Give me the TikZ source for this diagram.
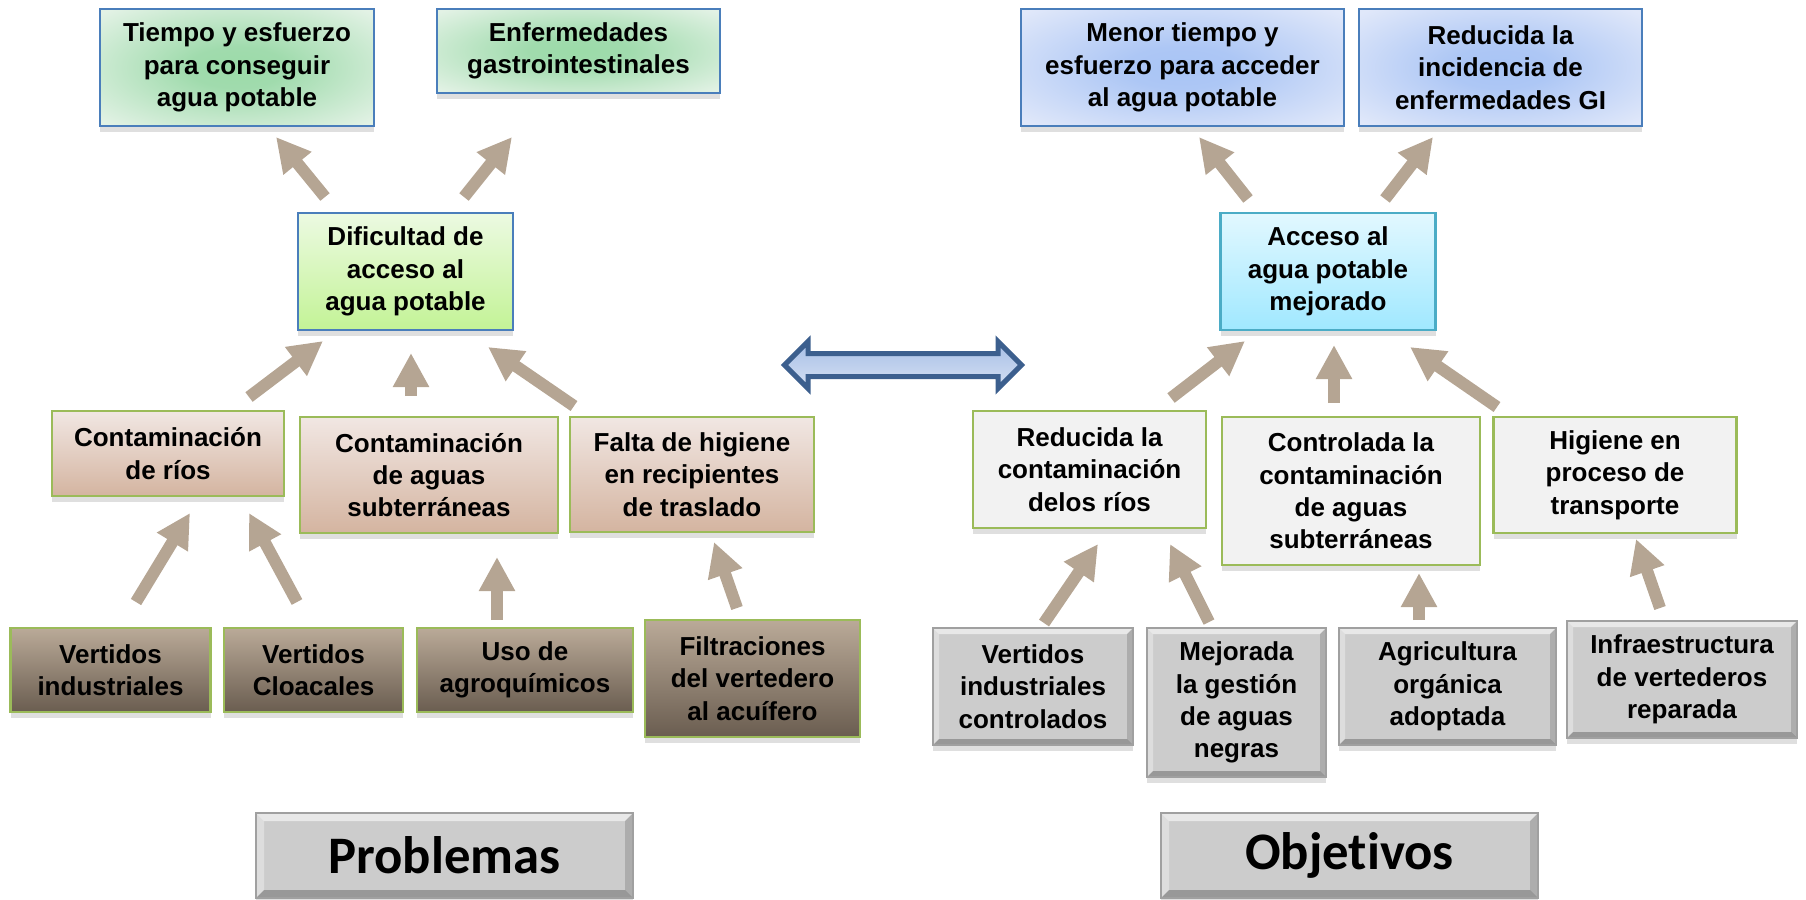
\documentclass[tikz,border=0pt]{standalone}
\usepackage{fontspec}
\setmainfont{Liberation Sans}
\newfontfamily\titlefont[Ligatures={NoCommon,NoContextual,NoRare}]{Carlito}
\usetikzlibrary{arrows.meta,shapes.arrows,shadows}

\definecolor{flowtan}{RGB}{181,165,147}
\definecolor{edgeblue}{RGB}{74,126,187}
\definecolor{edgecyan}{RGB}{75,172,198}
\definecolor{edgegreen}{RGB}{155,187,89}
\definecolor{edgegray}{RGB}{160,160,160}
\definecolor{limetop}{RGB}{236,250,226}
\definecolor{limebot}{RGB}{195,243,150}
\definecolor{rosetop}{RGB}{241,231,227}
\definecolor{rosebot}{RGB}{212,180,160}
\definecolor{earthtop}{RGB}{186,170,152}
\definecolor{earthbot}{RGB}{106,93,80}
\definecolor{skytop}{RGB}{226,248,255}
\definecolor{skybot}{RGB}{160,232,255}
\definecolor{paleg}{RGB}{242,242,242}
\definecolor{boxgray}{RGB}{204,204,204}
\definecolor{linkline}{RGB}{60,95,142}
\definecolor{linktop}{RGB}{166,190,230}
\definecolor{linkbot}{RGB}{214,225,243}

\pgfdeclareradialshading{greenglow}{\pgfpoint{0bp}{0bp}}{rgb(0bp)=(0.61,0.86,0.66); rgb(9bp)=(0.63,0.86,0.68); rgb(34bp)=(0.89,0.95,0.90); rgb(50bp)=(0.89,0.95,0.90)}
\pgfdeclareradialshading{blueglow}{\pgfpoint{0bp}{0bp}}{rgb(0bp)=(0.66,0.77,0.96); rgb(9bp)=(0.68,0.78,0.96); rgb(34bp)=(0.88,0.91,0.98); rgb(50bp)=(0.88,0.91,0.98)}

\tikzset{
  bevel/.style={path picture={
    \coordinate (pnw) at (path picture bounding box.north west);
    \coordinate (pne) at (path picture bounding box.north east);
    \coordinate (psw) at (path picture bounding box.south west);
    \coordinate (pse) at (path picture bounding box.south east);
    \fill[white,opacity=.55] (pnw) -- (pne) -- ([xshift=-#1,yshift=-#1]pne) -- ([xshift=#1,yshift=-#1]pnw) -- cycle;
    \fill[white,opacity=.35] (pnw) -- (psw) -- ([xshift=#1,yshift=#1]psw) -- ([xshift=#1,yshift=-#1]pnw) -- cycle;
    \fill[black,opacity=.25] (psw) -- (pse) -- ([xshift=-#1,yshift=#1]pse) -- ([xshift=#1,yshift=#1]psw) -- cycle;
    \fill[black,opacity=.15] (pne) -- (pse) -- ([xshift=-#1,yshift=#1]pse) -- ([xshift=-#1,yshift=-#1]pne) -- cycle;
  }}
}

\begin{document}
\begin{tikzpicture}[
    x=0.1mm, y=-0.1mm,
    box/.style={rectangle, align=center, inner sep=0pt, line width=0.25mm,
      font=\fontsize{7.4}{9.2}\selectfont\bfseries,
      drop shadow={shadow xshift=0mm, shadow yshift=-0.6mm, opacity=0.25}},
    topl/.style={box, draw=edgeblue, shading=greenglow},
    midl/.style={box, draw=edgeblue, top color=limetop, bottom color=limebot},
    rosebox/.style={box, draw=edgegreen, top color=rosetop, bottom color=rosebot},
    earthbox/.style={box, draw=edgegreen, top color=earthtop, bottom color=earthbot},
    topr/.style={box, draw=edgeblue, shading=blueglow},
    midr/.style={box, draw=edgecyan, top color=skytop, bottom color=skybot},
    palebox/.style={box, draw=edgegreen, fill=paleg},
    graybox/.style={box, draw=edgegray, fill=boxgray, bevel=0.6mm},
    titlebox/.style={box, draw=edgegray, fill=boxgray, bevel=0.8mm,
      font=\titlefont\bfseries\fontsize{15}{18}\selectfont,
      minimum width=37.7mm, minimum height=8.5mm},
    flow/.style={draw=flowtan, line width=1.2mm, -{Triangle[width=3.4mm,length=3.4mm]}},
    linkarrow/.style={double arrow, draw=linkline, line width=0.5mm, top color=linktop,
      bottom color=linkbot, minimum height=23.7mm, double arrow head extend=1.2mm,
      inner xsep=0pt, inner ysep=0.9mm}
  ]
  \useasboundingbox (0,0) rectangle (1806,899);

  \node[topl, minimum width=27.4mm, minimum height=11.7mm] (tiempo) at (237,67.5) {Tiempo y esfuerzo\\para conseguir\\agua potable};
  \node[topl, minimum width=28.3mm, minimum height=8.4mm] (enferm) at (578.5,51) {Enfermedades\\gastrointestinales};
  \node[midl, minimum width=21.5mm, minimum height=11.7mm] (dificultad) at (405.5,271.5) {Dificultad de\\acceso al\\agua potable};
  \node[rosebox, minimum width=23.2mm, minimum height=8.5mm] (rios) at (168,453.5) {Contaminación\\de ríos};
  \node[rosebox, minimum width=25.8mm, minimum height=11.6mm] (subter) at (429,475) {Contaminación\\de aguas\\subterráneas};
  \node[rosebox, minimum width=24.4mm, minimum height=11.5mm] (higiene) at (692,474.5) {Falta de higiene\\en recipientes\\de traslado};
  \node[earthbox, minimum width=20mm, minimum height=8.4mm] (indus) at (110.5,670) {Vertidos\\industriales};
  \node[earthbox, minimum width=17.9mm, minimum height=8.4mm] (cloacal) at (313.5,670) {Vertidos\\Cloacales};
  \node[earthbox, minimum width=21.6mm, minimum height=8.4mm] (agroq) at (525,670) {Uso de\\agroquímicos};
  \node[earthbox, minimum width=21.5mm, minimum height=11.7mm] (filtra) at (752.5,678.5) {Filtraciones\\del vertedero\\al acuífero};
  \node[titlebox] (problemas) at (444.5,855.5) {Problemas};

  \node[topr, minimum width=32.3mm, minimum height=11.7mm] (menor) at (1182.5,67.5) {Menor tiempo y\\esfuerzo para acceder\\al agua potable};
  \node[topr, minimum width=28.3mm, minimum height=11.7mm] (reducgi) at (1500.5,67.5) {Reducida la\\incidencia de\\enfermedades GI};
  \node[midr, minimum width=21.5mm, minimum height=11.7mm] (acceso) at (1328,271.5) {Acceso al\\agua potable\\mejorado};
  \node[palebox, minimum width=23.3mm, minimum height=11.7mm] (redrios) at (1089.5,469.5) {Reducida la\\contaminación\\delos ríos};
  \node[palebox, minimum width=25.8mm, minimum height=14.8mm] (ctrlsub) at (1351,491) {Controlada la\\contaminación\\de aguas\\subterráneas};
  \node[palebox, minimum width=24.3mm, minimum height=11.6mm] (transp) at (1615,475) {Higiene en\\proceso de\\transporte};
  \node[graybox, minimum width=20mm, minimum height=11.7mm] (induscon) at (1033,686.5) {Vertidos\\industriales\\controlados};
  \node[graybox, minimum width=17.9mm, minimum height=14.9mm] (negras) at (1236.5,702.5) {Mejorada\\la gestión\\de aguas\\negras};
  \node[graybox, minimum width=21.7mm, minimum height=11.7mm] (organica) at (1447.5,686.5) {Agricultura\\orgánica\\adoptada};
  \node[graybox, minimum width=23mm, minimum height=11.7mm] (vertedero) at (1682,679.5) {Infraestructura\\de vertederos\\reparada};
  \node[titlebox] (objetivos) at (1349.5,855.5) {Objetivos};

  \node[linkarrow] (enlace) at (903,365) {};

  \foreach \n/\x/\y in {
      dt/325/197, te/276/137, de/464/197, ee/512/137,
      rd/249/397, dr/323/341, sd/411/396, ds/411/353, hd/574/406, dh/488/347,
      ir/136/602, ri/190/513, cr/297/602, rc/249/513, as/497/620, sa/497/557,
      fh/737/608, hf/714/542,
      am/1248/199, ma/1199/137, ag/1385/199, ga/1433/137,
      xa/1171/398, ax/1245/341, ya/1334/403, ay/1334/345, za/1497/407, az/1410/347,
      kx/1044/623, xk/1098/544, nx/1209/622, xn/1170/544, oy/1419/620, yo/1419/573,
      vz/1660/608, zv/1636/539}
    \coordinate (\n) at (\x,\y);

  \foreach \a/\b in {dt/te, de/ee, rd/dr, sd/ds, hd/dh, ir/ri, cr/rc, as/sa, fh/hf,
      am/ma, ag/ga, xa/ax, ya/ay, za/az, kx/xk, nx/xn, oy/yo, vz/zv}
    \draw[flow] (\a) -- (\b);
\end{tikzpicture}
\end{document}
